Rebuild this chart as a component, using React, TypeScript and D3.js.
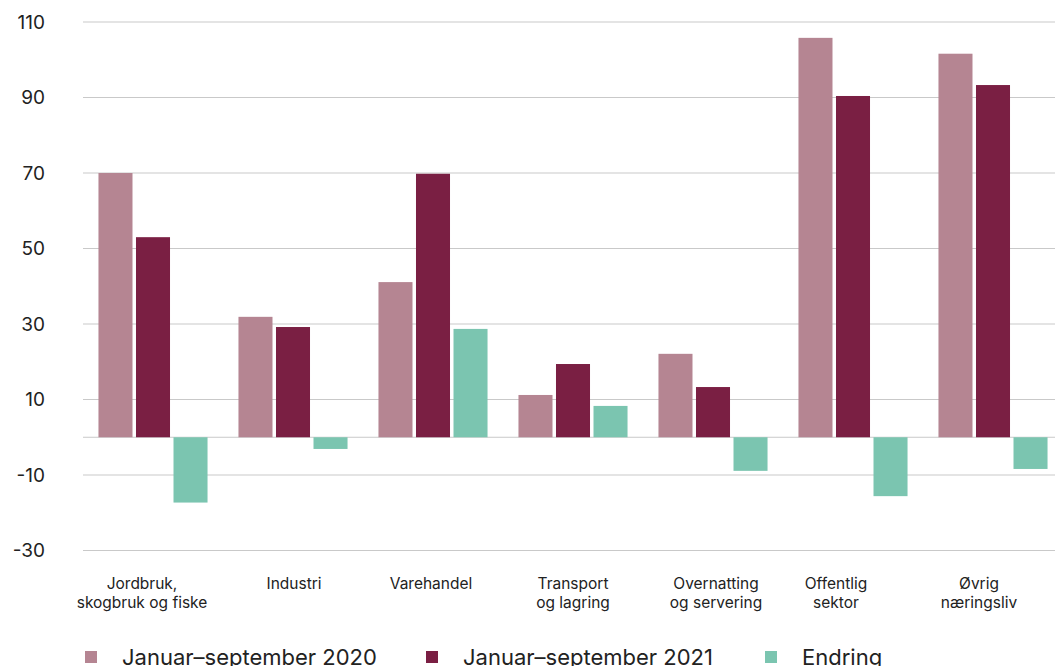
import React from "react";
import * as d3 from "d3";

const categories = [
  ["Jordbruk,", "skogbruk og fiske"],
  ["Industri"],
  ["Varehandel"],
  ["Transport", "og lagring"],
  ["Overnatting", "og servering"],
  ["Offentlig", "sektor"],
  ["Øvrig", "næringsliv"],
];
const seriesNames = ["Januar–september 2020", "Januar–september 2021", "Endring"];
const values2020 = [70, 31.9, 41.1, 11.2, 22.1, 105.8, 101.6];
const values2021 = [53, 29.2, 69.8, 19.4, 13.3, 90.4, 93.3];
const valuesEndring = [-17.3, -3.1, 28.7, 8.3, -8.9, -15.6, -8.4];
const yTicks = [-30, -10, 10, 30, 50, 70, 90, 110];
const colors = ["#b58592", "#7a1f43", "#7bc5b0"];

const W = 1055;
const H = 666;

export default function App() {
  const keys = categories.map((c) => c.join(" "));
  const x = d3.scaleBand<string>().domain(keys).range([83, 1063]).paddingInner(0.221).paddingOuter(0.1105);
  const xs = d3.scaleBand<string>().domain(seriesNames).range([0, x.bandwidth()]).paddingInner(0.093);
  const y = d3.scaleLinear().domain([-30, 110]).range([550.5, 22]);
  const series = [values2020, values2021, valuesEndring];
  const font = "Inter, 'Noto Sans', sans-serif";
  const legendX = [85, 426, 765];
  const labelShift = [-11, 1, -2, 0, 3, -17, -14];

  return (
    <svg width={W} height={H} style={{ position: "absolute", left: 0, top: 0, background: "#fff" }} fontFamily={font}>
      {yTicks.map((t) => (
        <g key={t}>
          <line x1={83} x2={W} y1={y(t)} y2={y(t)} stroke="#c9c9c9" strokeWidth={1.2} />
          <text x={45} y={y(t)} dy="0.35em" textAnchor="end" fontSize={19} fill="#222">
            {t}
          </text>
        </g>
      ))}
      <line x1={83} x2={W} y1={y(0)} y2={y(0)} stroke="#c9c9c9" strokeWidth={1.2} />
      {series.map((vals, si) =>
        vals.map((v, i) => {
          const x0 = (x(keys[i]) ?? 0) + (xs(seriesNames[si]) ?? 0);
          const y0 = Math.min(y(v), y(0));
          const h = Math.abs(y(v) - y(0));
          return <rect key={`${si}-${i}`} x={x0} y={y0} width={xs.bandwidth()} height={h} fill={colors[si]} />;
        })
      )}
      {categories.map((lines, i) => (
        <text key={i} textAnchor="middle" fontSize={15.5} fill="#222">
          {lines.map((l, li) => (
            <tspan key={li} x={(x(keys[i]) ?? 0) + x.bandwidth() / 2 + labelShift[i]} y={589 + li * 19}>
              {l}
            </tspan>
          ))}
        </text>
      ))}
      {seriesNames.map((s, i) => (
        <g key={s}>
          <rect x={legendX[i]} y={651} width={12} height={12} fill={colors[i]} />
          <text x={legendX[i] + 37} y={665} fontSize={22} fill="#222">
            {s}
          </text>
        </g>
      ))}
    </svg>
  );
}
